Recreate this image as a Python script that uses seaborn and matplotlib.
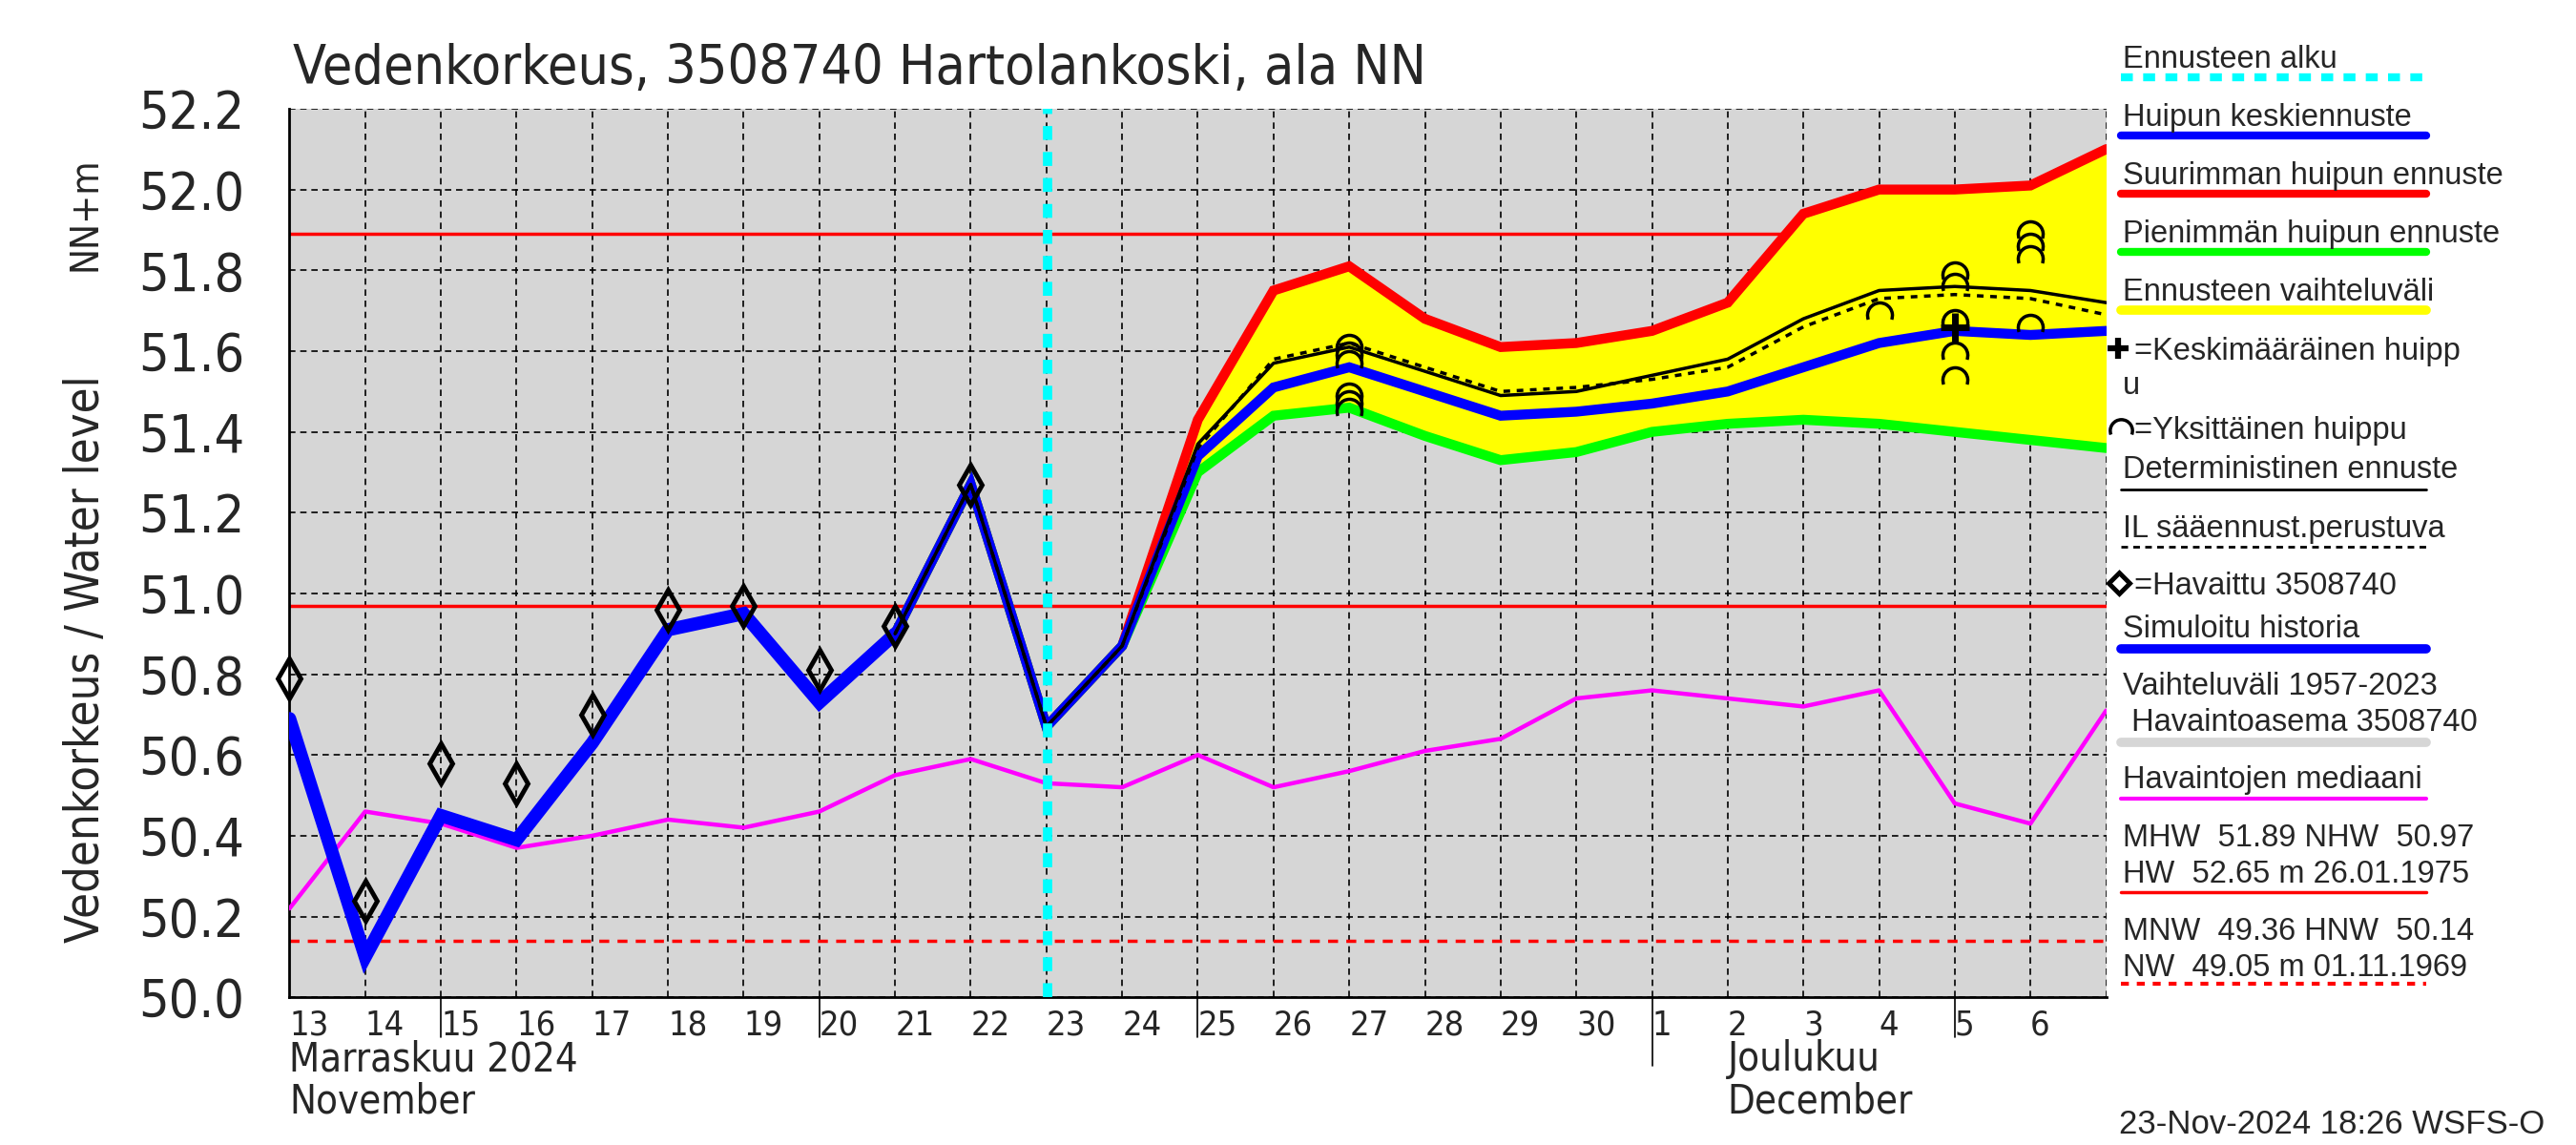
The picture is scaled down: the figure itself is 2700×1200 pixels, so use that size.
"""
Vedenkorkeus 3508740 Hartolankoski, ala NN - forecast chart.
"""

import numpy as np
import pandas as pd
import matplotlib
matplotlib.use("Agg")
import matplotlib.pyplot as plt
from matplotlib import font_manager
from matplotlib.path import Path
from matplotlib.lines import Line2D
from matplotlib.transforms import blended_transform_factory
import seaborn as sns

# ---- data -------------------------------------------------------------
days = pd.date_range("2024-11-13", "2024-12-07", freq="D")
day_labels = [str(d.day) for d in days[:-1]]
long_tick_days = [15, 20, 25, 5]

obs_dates = days[0:10]
observed = [50.79, 50.24, 50.58, 50.53, 50.70, 50.96, 50.97, 50.81, 50.92, 51.27]

sim_dates = days[0:9]
simulated = [50.69, 50.10, 50.45, 50.39, 50.63, 50.91, 50.95, 50.73, 50.90]

fc_dates = days[8:]
fc_max = [50.90, 51.27, 50.67, 50.87, 51.43, 51.75, 51.81, 51.68, 51.61, 51.62,
          51.65, 51.72, 51.94, 52.00, 52.00, 52.01, 52.10]
fc_mean = [50.90, 51.27, 50.67, 50.87, 51.34, 51.51, 51.56, 51.50, 51.44, 51.45,
           51.47, 51.50, 51.56, 51.62, 51.65, 51.64, 51.65]
fc_min = [50.90, 51.27, 50.67, 50.87, 51.30, 51.44, 51.46, 51.39, 51.33, 51.35,
          51.40, 51.42, 51.43, 51.42, 51.40, 51.38, 51.36]
fc_det = [50.90, 51.27, 50.67, 50.87, 51.37, 51.57, 51.61, 51.55, 51.49, 51.50,
          51.54, 51.58, 51.68, 51.75, 51.76, 51.75, 51.72]
fc_il = [50.90, 51.27, 50.67, 50.87, 51.36, 51.58, 51.62, 51.56, 51.50, 51.51,
         51.53, 51.56, 51.66, 51.73, 51.74, 51.73, 51.69]

median = [50.22, 50.46, 50.43, 50.37, 50.40, 50.44, 50.42, 50.46, 50.55, 50.59,
          50.53, 50.52, 50.60, 50.52, 50.56, 50.61, 50.64, 50.74, 50.76, 50.74,
          50.72, 50.76, 50.48, 50.43, 50.71]

peak_dates = pd.to_datetime(["2024-11-27"] * 6 + ["2024-12-04"] + ["2024-12-05"] * 5
                            + ["2024-12-06"] * 4)
peak_vals = [51.61, 51.59, 51.57, 51.49, 51.47, 51.45, 51.69,
             51.79, 51.76, 51.67, 51.59, 51.53, 51.89, 51.86, 51.83, 51.66]
mean_peak_date = pd.to_datetime(["2024-12-05"])
mean_peak_val = [51.66]

forecast_start = pd.Timestamp("2024-11-23 00:20")
MHW, NHW, HNW = 51.89, 50.97, 50.14
y_ticks = [50.0, 50.2, 50.4, 50.6, 50.8, 51.0, 51.2, 51.4, 51.6, 51.8, 52.0, 52.2]

legend_rows = [
    ("Ennusteen alku", "#00ffff", 6, (0, (1.5, 1.3))),
    ("Huipun keskiennuste", "#0000ff", 6, "-"),
    ("Suurimman huipun ennuste", "#ff0000", 6, "-"),
    ("Pienimmän huipun ennuste", "#00ff00", 6, "-"),
    ("Ennusteen vaihteluväli", "#ffff00", 7, "-"),
]

# ---- style ------------------------------------------------------------
sns.set_style("white")
names = {f.name for f in font_manager.fontManager.ttflist}
NARROW = "Liberation Sans Narrow" if "Liberation Sans Narrow" in names else "DejaVu Sans"
STRETCH = "normal" if NARROW != "DejaVu Sans" else "condensed"
REG = "Liberation Sans" if "Liberation Sans" in names else "DejaVu Sans"
plt.rcParams["font.family"] = [NARROW, "DejaVu Sans"]

W, H = 1568.0, 697.0  # reference layout units


def fx(x):
    return x / W


def fy(y):
    return 1 - y / H


fig = plt.figure(figsize=(27, 12), dpi=100)
ax = fig.add_axes([0.1124, 0.1290, 0.8176 - 0.1124, 0.9050 - 0.1290])
ax.set_facecolor("#d6d6d6")

# reference levels
ax.axhline(MHW, color="#ff0000", lw=2.5, zorder=2)
ax.axhline(NHW, color="#ff0000", lw=2.5, zorder=2)
ax.axhline(HNW, color="#ff0000", lw=2.5, ls=(0, (3, 2.5)), zorder=2)

# forecast range
ax.fill_between(fc_dates, fc_min, fc_max, color="#ffff00", lw=0, zorder=3)

sns.lineplot(x=days, y=median, ax=ax, color="#ff00ff", lw=3.2, zorder=4,
             legend=False)
sns.lineplot(x=fc_dates, y=fc_max, ax=ax, color="#ff0000", lw=7.5, zorder=5,
             solid_joinstyle="miter", legend=False)
sns.lineplot(x=fc_dates, y=fc_min, ax=ax, color="#00ff00", lw=7.5, zorder=5,
             solid_joinstyle="miter", legend=False)
sns.lineplot(x=sim_dates, y=simulated, ax=ax, color="#0000ff", lw=10, zorder=6,
             solid_joinstyle="miter", legend=False)
sns.lineplot(x=fc_dates, y=fc_mean, ax=ax, color="#0000ff", lw=7.5, zorder=6,
             solid_joinstyle="miter", legend=False)
sns.lineplot(x=fc_dates, y=fc_det, ax=ax, color="black", lw=2.5, zorder=7,
             legend=False)
sns.lineplot(x=fc_dates, y=fc_il, ax=ax, color="black", lw=2.5, ls=(0, (2, 2)),
             zorder=7, legend=False)

arc = Path.arc(-20, 200)
ax.plot(peak_dates, peak_vals, ls="none", marker=arc, ms=19, mew=2.5,
        mfc="none", mec="black", zorder=8)
ax.plot(mean_peak_date, mean_peak_val, ls="none", marker="+", ms=22, mew=5,
        color="black", zorder=8)
ax.plot(obs_dates, observed, ls="none", marker="d", ms=21, mew=3.5,
        mfc="none", mec="black", zorder=9, clip_on=False)

ax.axvline(forecast_start, color="#00ffff", lw=7, ls=(0, (1.5, 1.3)), zorder=10)
ax.axvline(days[-1], color="black", ls=(0, (4, 3)), lw=1.2, zorder=1)

# axes
ax.set_xlabel("")
ax.set_ylabel("")
ax.set_xlim(days[0], days[-1])
ax.set_ylim(50.0, 52.2)
ax.set_yticks(y_ticks)
ax.set_yticklabels([f"{v:.1f}" for v in y_ticks], fontsize=40, fontstretch=STRETCH)
ax.set_xticks(days[:-1])
ax.set_xticklabels(day_labels, fontsize=26, ha="left", fontstretch=STRETCH)
ax.tick_params(axis="y", direction="in", length=34, width=1.5, pad=34)
ax.tick_params(axis="x", direction="out", length=8, width=1.2, pad=1)
ax.grid(True, color="black", ls=(0, (4, 3)), lw=1.2)
for s in ["top", "right"]:
    ax.spines[s].set_visible(False)
for s in ["left", "bottom"]:
    ax.spines[s].set_color("black")
    ax.spines[s].set_linewidth(2)

trans = blended_transform_factory(ax.transData, ax.transAxes)
for d in days[:-1]:
    if d.day in long_tick_days:
        ax.add_line(Line2D([d, d], [0, -0.045], transform=trans, color="black",
                           lw=1.2, clip_on=False))
    if d.day == 1:
        ax.add_line(Line2D([d, d], [0, -0.077], transform=trans, color="black",
                           lw=1.2, clip_on=False))

for d, top, bottom in [(days[0], "Marraskuu 2024", "November"),
                       (days[19], "Joulukuu", "December")]:
    ax.text(d, -0.070, top, transform=trans, fontsize=30,
            fontstretch=STRETCH, va="center", ha="left")
    ax.text(d, -0.117, bottom, transform=trans, fontsize=30,
            fontstretch=STRETCH, va="center", ha="left")

fig.text(fx(178), fy(51), "Vedenkorkeus, 3508740 Hartolankoski, ala NN",
         fontsize=41, fontstretch=STRETCH, ha="left", va="baseline")
fig.text(fx(52), fy(401), "Vedenkorkeus / Water level", rotation=90,
         fontsize=35, fontstretch=STRETCH, ha="center", va="center")
fig.text(fx(52), fy(130), "NN+m", rotation=90, fontsize=29,
         fontstretch=STRETCH, ha="center", va="center")

# ---- legend (right column) -------------------------------------------
LX0, LX1 = fx(1291), fx(1477)


def leg_text(x, y, s, size=23.5):
    fig.text(fx(x), fy(y), s, fontsize=size, family=[REG, "DejaVu Sans"],
             ha="left", va="baseline")


def leg_line(y, color, lw, ls="-"):
    fig.add_artist(Line2D([LX0, LX1], [fy(y), fy(y)], color=color, lw=lw, ls=ls,
                          transform=fig.transFigure))


for i, (label, color, lw, ls) in enumerate(legend_rows):
    yc = 34 + i * 35.5
    leg_text(1292, yc + 7, label)
    leg_line(yc + 13, color, lw, ls)

fig.add_artist(Line2D([fx(1289)], [fy(212)], marker="+", ms=16, mew=4.5,
                      color="black", transform=fig.transFigure))
leg_text(1299, 219, "=Keskimääräinen huipp")
leg_text(1292, 240, "u")
fig.add_artist(Line2D([fx(1291)], [fy(262)], marker=arc, ms=17, mew=2.5,
                      mfc="none", mec="black", transform=fig.transFigure))
leg_text(1299, 267, "=Yksittäinen huippu")
leg_text(1292, 291, "Deterministinen ennuste")
leg_line(298, "black", 2)
leg_text(1292, 327, "IL sääennust.perustuva")
leg_line(333, "black", 2, (0, (2.5, 2)))
fig.add_artist(Line2D([fx(1290)], [fy(355)], marker="D", ms=11, mew=3.5,
                      mfc="none", mec="black", transform=fig.transFigure))
leg_text(1299, 362, "=Havaittu 3508740")
leg_text(1292, 388, "Simuloitu historia")
leg_line(395, "#0000ff", 7)
leg_text(1292, 423, "Vaihteluväli 1957-2023")
leg_text(1292, 445, " Havaintoasema 3508740")
leg_line(452, "#d6d6d6", 7)
leg_text(1292, 480, "Havaintojen mediaani")
leg_line(486, "#ff00ff", 3)
leg_text(1292, 515, "MHW  51.89 NHW  50.97")
leg_text(1292, 537, "HW  52.65 m 26.01.1975")
leg_line(543, "#ff0000", 2.5)
leg_text(1292, 572, "MNW  49.36 HNW  50.14")
leg_text(1292, 594, "NW  49.05 m 01.11.1969")
leg_line(599, "#ff0000", 3, (0, (2, 2)))
leg_text(1290, 690, "23-Nov-2024 18:26 WSFS-O", size=25)

fig.savefig("out.png", dpi=100)
plt.close(fig)
